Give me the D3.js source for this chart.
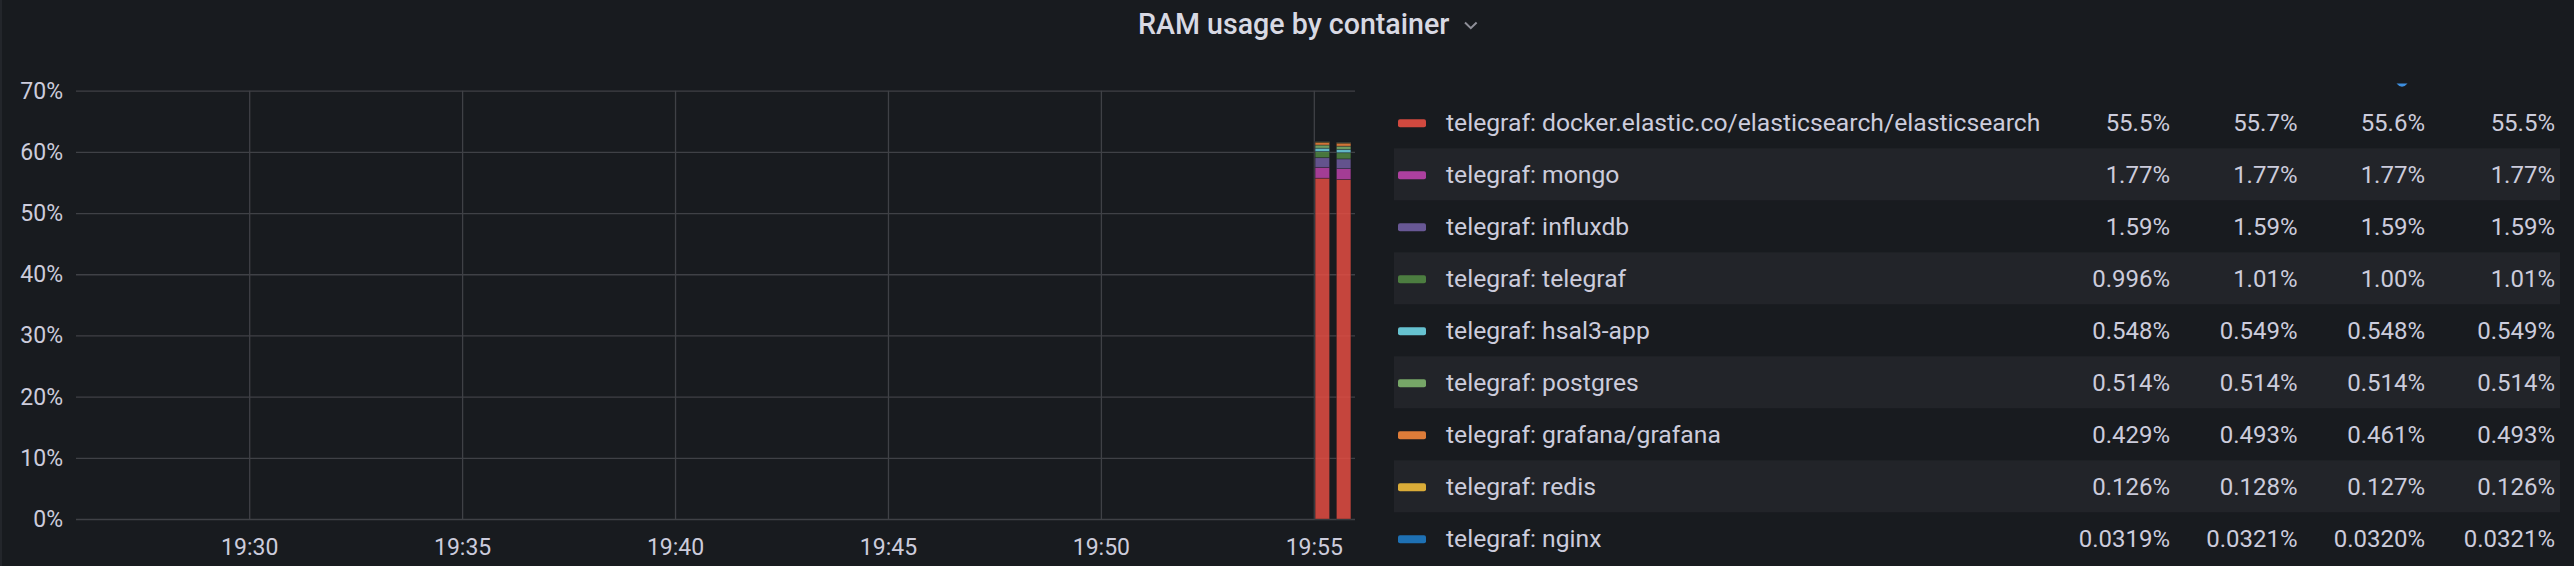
<!DOCTYPE html>
<html>
<head>
<meta charset="utf-8">
<script src="https://cdn.jsdelivr.net/npm/d3@7/dist/d3.min.js"></script>
<style>
  html, body { margin: 0; padding: 0; background: #181b1f; }
  svg { display: block; }
  text { font-family: Roboto, "Noto Sans", sans-serif; }
</style>
</head>
<body>
<svg id="chart" width="2574" height="566"></svg>
<script>
// ---------------- DATA ----------------
const chartTitle = "RAM usage by container";
const seriesNames = [
  "telegraf: docker.elastic.co/elasticsearch/elasticsearch",
  "telegraf: mongo",
  "telegraf: influxdb",
  "telegraf: telegraf",
  "telegraf: hsal3-app",
  "telegraf: postgres",
  "telegraf: grafana/grafana",
  "telegraf: redis",
  "telegraf: nginx"
];
const seriesColors = ["#E24D42", "#BA43A9", "#705DA0", "#508642", "#6ED0E0", "#7EB26D", "#EF843C", "#EAB839", "#1F78C1"];
// the two samples drawn as stacked bars (percent)
const sampleTimes = ["2023-01-01T19:55:12", "2023-01-01T19:55:42"];
const firstSample  = [55.7, 1.77, 1.59, 0.996, 0.548, 0.514, 0.429, 0.128, 0.0319];
const secondSample = [55.5, 1.77, 1.59, 1.01, 0.549, 0.514, 0.493, 0.126, 0.0321];
// legend statistics (percent): min, max, mean, last
const legendMin  = [55.5, 1.77, 1.59, 0.996, 0.548, 0.514, 0.429, 0.126, 0.0319];
const legendMax  = [55.7, 1.77, 1.59, 1.01, 0.549, 0.514, 0.493, 0.128, 0.0321];
const legendMean = [55.6, 1.77, 1.59, 1.00, 0.548, 0.514, 0.461, 0.127, 0.0320];
const legendLast = [55.5, 1.77, 1.59, 1.01, 0.549, 0.514, 0.493, 0.126, 0.0321];
const timeDomain = ["2023-01-01T19:25:56", "2023-01-01T19:55:58"];
const yMax = 70;
const sampleInterval = 30; // seconds

// ---------------- LAYOUT ----------------
const svg = d3.select("#chart");
const plot = { left: 76, right: 1355, top: 90.7, bottom: 519 };
const textColor = "#ccccdc";
const gridColor = "#3f4146";

svg.append("rect").attr("x", 0).attr("y", 0).attr("width", 2574).attr("height", 566).attr("fill", "#181b1f");
svg.append("rect").attr("x", 0).attr("y", 0).attr("width", 2).attr("height", 566).attr("fill", "#23262b");

// Title
svg.append("text")
  .attr("x", 1138).attr("y", 33.5)
  .attr("font-size", 28.6).attr("font-weight", 500)
  .attr("fill", "#d8d9e3")
  .text(chartTitle);
svg.append("path")
  .attr("d", "M1465,22.5 L1470.8,28.2 L1476.6,22.5")
  .attr("fill", "none").attr("stroke", "#8e8f98").attr("stroke-width", 2);

// Scales
const parse = d3.isoParse;
const x = d3.scaleTime().domain(timeDomain.map(parse)).range([plot.left, plot.right]);
const y = d3.scaleLinear().domain([0, yMax]).range([plot.bottom, plot.top]);

// Grid
const yGrid = svg.append("g").attr("transform", `translate(${plot.left},0)`)
  .call(d3.axisLeft(y).ticks(7).tickSize(-(plot.right - plot.left)).tickFormat(""));
yGrid.select(".domain").remove();
yGrid.selectAll("line").attr("stroke", gridColor).attr("stroke-width", 1.3);

const xGrid = svg.append("g").attr("transform", `translate(0,${plot.bottom})`)
  .call(d3.axisBottom(x).ticks(d3.timeMinute.every(5)).tickSize(-(plot.bottom - plot.top)).tickFormat(""));
xGrid.select(".domain").remove();
xGrid.selectAll("line").attr("stroke", gridColor).attr("stroke-width", 1.3);

// Axes labels
const yAxis = svg.append("g").attr("transform", `translate(${plot.left},0)`)
  .call(d3.axisLeft(y).ticks(7).tickSize(0).tickPadding(13).tickFormat(d => d + "%"));
yAxis.select(".domain").remove();
yAxis.selectAll("text").attr("font-size", 23).attr("fill", textColor)
  .attr("font-family", "Roboto, sans-serif");

const xAxis = svg.append("g").attr("transform", `translate(0,${plot.bottom})`)
  .call(d3.axisBottom(x).ticks(d3.timeMinute.every(5)).tickSize(0).tickPadding(20).tickFormat(d3.timeFormat("%H:%M")));
xAxis.select(".domain").remove();
xAxis.selectAll("text").attr("font-size", 23).attr("fill", textColor)
  .attr("font-family", "Roboto, sans-serif");

// Stacked bars
const rows = sampleTimes.map((t, i) => {
  const r = { time: parse(t) };
  const vals = i === 0 ? firstSample : secondSample;
  seriesNames.forEach((n, j) => r[n] = vals[j]);
  return r;
});
const stack = d3.stack().keys(seriesNames)(rows);
const t0 = parse(sampleTimes[0]);
const barW = (x(new Date(+t0 + sampleInterval * 1000)) - x(t0)) * 0.68;

const layers = svg.append("g").selectAll("g").data(stack).join("g")
  .attr("fill", (d, i) => seriesColors[i]);
layers.selectAll("rect").data(d => d).join("rect")
  .attr("x", d => x(d.data.time) - barW / 2)
  .attr("width", barW)
  .attr("y", d => y(d[1]))
  .attr("height", d => Math.max(0, y(d[0]) - y(d[1])))
  .attr("fill-opacity", 0.86)
  .attr("stroke", "#181b1f").attr("stroke-opacity", 0.45).attr("stroke-width", 0.8);

// Legend table
const legend = { y0: 122.3, step: 52.0, left: 1394, right: 2560, swatchX: 1398, textX: 1446 };
const colRight = [2170, 2297.5, 2425, 2555];
const fmt = d3.format(".3r");
const stats = [legendMin, legendMax, legendMean, legendLast];

// sort indicator (partially visible header)
svg.append("path").attr("d", "M2396.5,83.5 Q2402,90 2407.5,83.5 Z").attr("fill", "#3d8fe0");

const lg = svg.append("g");
seriesNames.forEach((name, i) => {
  const cy = legend.y0 + i * legend.step;
  if (i % 2 === 1) {
    lg.append("rect").attr("x", legend.left).attr("y", cy - 26).attr("width", legend.right - legend.left)
      .attr("height", 52).attr("fill", "#222429");
  }
  lg.append("rect").attr("x", legend.swatchX).attr("y", cy - 3).attr("width", 28).attr("height", 8)
    .attr("rx", 2).attr("fill", seriesColors[i]).attr("fill-opacity", 0.92);
  lg.append("text").attr("x", legend.textX).attr("y", cy).attr("dy", "0.36em")
    .attr("font-size", 24.7).attr("fill", textColor).text(name);
  stats.forEach((arr, k) => {
    lg.append("text").attr("x", colRight[k]).attr("y", cy).attr("dy", "0.36em")
      .attr("text-anchor", "end").attr("font-size", 24).attr("fill", textColor)
      .text(fmt(arr[i]) + "%");
  });
});
</script>
</body>
</html>
